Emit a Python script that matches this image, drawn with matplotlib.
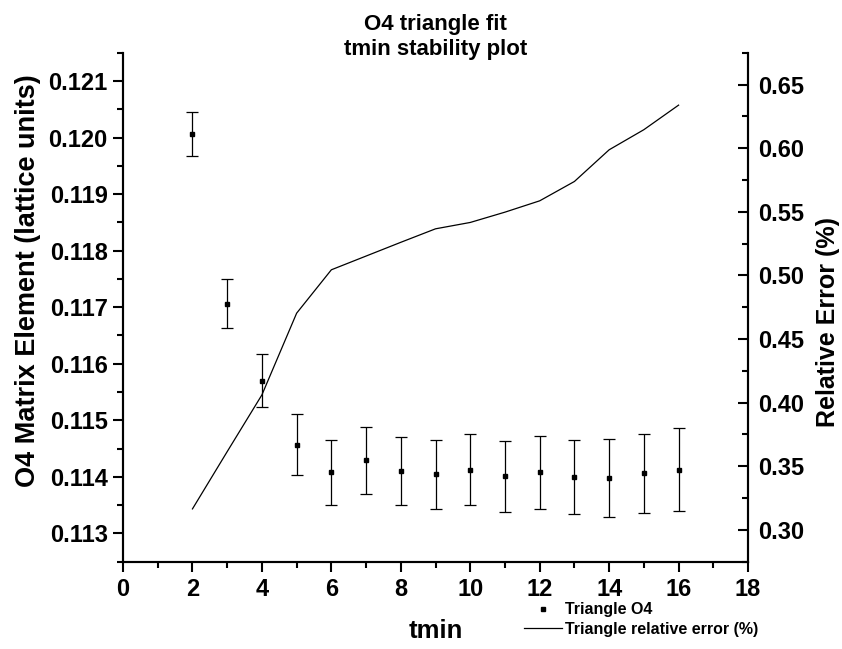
import numpy as np
import matplotlib
matplotlib.use("Agg")
import matplotlib.pyplot as plt
from matplotlib.ticker import MultipleLocator
from matplotlib.lines import Line2D

plt.rcParams["font.family"] = ["Liberation Sans", "DejaVu Sans"]
plt.rcParams["font.weight"] = "bold"

# ── data ───────────────────────────────────────────────────────────────────
tmin = [2, 3, 4, 5, 6, 7, 8, 9, 10, 11, 12, 13, 14, 15, 16]
o4_value = [0.12007, 0.11706, 0.11570, 0.11457, 0.11408, 0.11429, 0.11411,
            0.11405, 0.11413, 0.11401, 0.11408, 0.11400, 0.11398, 0.11406, 0.11413]
o4_error = [0.00039, 0.00043, 0.00047, 0.00054, 0.00058, 0.00059, 0.00060,
            0.00061, 0.00062, 0.00063, 0.00064, 0.00066, 0.00069, 0.00070, 0.00073]
rel_error = [0.3165, 0.3615, 0.4061, 0.4703, 0.5044, 0.5152, 0.5260, 0.5366,
             0.5416, 0.5497, 0.5586, 0.5738, 0.5987, 0.6145, 0.6338]

fig = plt.figure(figsize=(8.42, 6.49), dpi=100)
ax = fig.add_axes([0.1461, 0.1345, 0.7423, 0.7843])
ax2 = ax.twinx()

ax.errorbar(tmin, o4_value, yerr=o4_error, fmt="s", color="black",
            markersize=2.5, elinewidth=0.9, capsize=4, capthick=0.9, zorder=3)
ax2.plot(tmin, rel_error, color="black", linewidth=0.9)

ax.set_xlim(0, 18)
ax.set_ylim(0.1125, 0.1215)
ax2.set_ylim(0.275, 0.675)

ax.xaxis.set_major_locator(MultipleLocator(2))
ax.xaxis.set_minor_locator(MultipleLocator(1))
ax.yaxis.set_major_locator(MultipleLocator(0.001))
ax.yaxis.set_minor_locator(MultipleLocator(0.0005))
ax2.yaxis.set_major_locator(MultipleLocator(0.05))
ax2.yaxis.set_minor_locator(MultipleLocator(0.025))
ax.yaxis.set_major_formatter(plt.FormatStrFormatter("%.3f"))
ax2.yaxis.set_major_formatter(plt.FormatStrFormatter("%.2f"))

for a in (ax, ax2):
    a.spines["top"].set_visible(False)
    for s in ("left", "right", "bottom"):
        a.spines[s].set_linewidth(1.5)

ax.tick_params(axis="both", which="major", direction="out", length=7, width=1.5,
               labelsize=17, pad=4)
ax.tick_params(axis="both", which="minor", direction="out", length=4, width=1.5)
ax.tick_params(axis="x", pad=5)
ax2.tick_params(axis="y", which="major", direction="in", length=7, width=1.5,
                labelsize=17, pad=7)
ax2.tick_params(axis="y", which="minor", direction="in", length=4, width=1.5)

for lbl in ax.get_xticklabels() + ax.get_yticklabels() + ax2.get_yticklabels():
    lbl.set_fontweight("bold")

ax.set_xlabel("tmin", fontsize=18.5, fontweight="bold")
ax.xaxis.set_label_coords(0.5, -0.112)
ax.set_ylabel("O4 Matrix Element (lattice units)", fontsize=19.5, fontweight="bold")
ax.yaxis.set_label_coords(-0.131, 0.553)
ax2.set_ylabel("Relative Error (%)", fontsize=18, fontweight="bold")
ax2.yaxis.set_label_coords(1.109, 0.471)

fig.text(0.517, 0.979, "O4 triangle fit\ntmin stability plot", ha="center", va="top",
         fontsize=16, fontweight="bold", linespacing=1.3)

handles = [
    Line2D([0], [0], marker="s", color="black", linestyle="none", markersize=3.5),
    Line2D([0], [0], color="black", linewidth=0.9),
]
fig.legend(handles, ["Triangle O4", "Triangle relative error (%)"],
           loc="upper left", bbox_to_anchor=(0.622, 0.072), frameon=False,
           prop={"size": 11.5, "weight": "bold"}, handlelength=2.4,
           handletextpad=0.2, labelspacing=0.3, borderaxespad=0, borderpad=0)

fig.savefig("out.png", dpi=100)
